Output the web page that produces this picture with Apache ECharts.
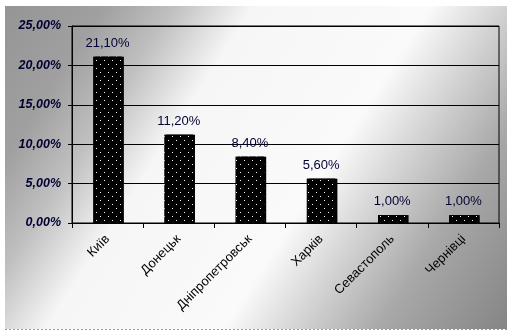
<!DOCTYPE html>
<html>
<head>
<meta charset="utf-8">
<script src="https://cdn.jsdelivr.net/npm/echarts@6/dist/echarts.min.js"></script>
<style>
  html, body { margin: 0; padding: 0; background: #fff; }
  #chart { width: 515px; height: 336px; }
</style>
</head>
<body>
<div id="chart"></div>
<script>
const cities = ['Київ', 'Донецьк', 'Дніпропетровськ', 'Харків', 'Севастополь', 'Чернівці'];
const shares = [21.1, 11.2, 8.4, 5.6, 1.0, 1.0];
const axisTicks = [0, 5, 10, 15, 20, 25];

const chart = echarts.init(document.getElementById('chart'));

// comma decimal, as in the original
const pct = v => v.toFixed(2).replace('.', ',') + '%';

const option = {
  animation: false,
  aria: { enabled: true, decal: { show: true } },
  graphic: [
    {
      type: 'rect',
      z: -10,
      silent: true,
      shape: { x: 5, y: 6, width: 502, height: 323 },
      style: {
        fill: new echarts.graphic.LinearGradient(0, 0, 1, 1, [
          { offset: 0, color: '#959595' },
          { offset: 0.14, color: '#a0a0a0' },
          { offset: 0.24, color: '#c0c0c0' },
          { offset: 0.35, color: '#f6f6f6' },
          { offset: 0.6, color: '#fafafa' },
          { offset: 0.7, color: '#d4d4d4' },
          { offset: 0.82, color: '#a8a8a8' },
          { offset: 1, color: '#858585' }
        ])
      }
    },
    {
      type: 'line',
      z: -9,
      silent: true,
      shape: { x1: 5, y1: 329.5, x2: 507, y2: 329.5 },
      style: { stroke: '#999', lineWidth: 1, lineDash: [2, 2] }
    }
  ],
  grid: {
    left: 72, right: 16, top: 26, bottom: 113,
    show: true,
    borderColor: '#000',
    borderWidth: 1,
    backgroundColor: 'transparent'
  },
  xAxis: {
    type: 'category',
    data: cities,
    axisLine: { lineStyle: { color: '#000', width: 1 } },
    axisTick: { show: true, length: 5, lineStyle: { color: '#000' } },
    axisLabel: {
      rotate: 45,
      margin: 14,
      interval: 0,
      color: '#000',
      fontFamily: 'Liberation Sans, Arial, sans-serif',
      fontSize: 13
    }
  },
  yAxis: {
    type: 'value',
    min: axisTicks[0],
    max: axisTicks[axisTicks.length - 1],
    interval: 5,
    axisLine: { show: true, lineStyle: { color: '#000', width: 1 } },
    axisTick: { show: true, length: 4, lineStyle: { color: '#000' } },
    splitLine: { show: true, lineStyle: { color: '#000', width: 1 } },
    axisLabel: {
      margin: 11,
      formatter: pct,
      color: '#000033',
      fontFamily: 'Liberation Sans, Arial, sans-serif',
      fontSize: 12.5,
      fontWeight: 'bold',
      fontStyle: 'italic'
    }
  },
  series: [
    {
      type: 'bar',
      data: shares,
      barWidth: '40%',
      itemStyle: {
        color: '#000',
        shadowColor: 'rgba(0,0,0,0.35)',
        shadowOffsetX: 2,
        shadowOffsetY: 0,
        shadowBlur: 0,
        decal: {
          symbol: 'rect',
          symbolSize: 1,
          color: '#fff',
          backgroundColor: '#000',
          dashArrayX: [[1, 7], [0, 4, 1, 3]],
          dashArrayY: [1, 3],
          rotation: 0
        }
      },
      label: {
        show: true,
        position: 'top',
        distance: 7,
        formatter: p => pct(p.value),
        color: '#000033',
        fontFamily: 'Liberation Sans, Arial, sans-serif',
        fontSize: 13
      }
    }
  ]
};

chart.setOption(option);
</script>
</body>
</html>
